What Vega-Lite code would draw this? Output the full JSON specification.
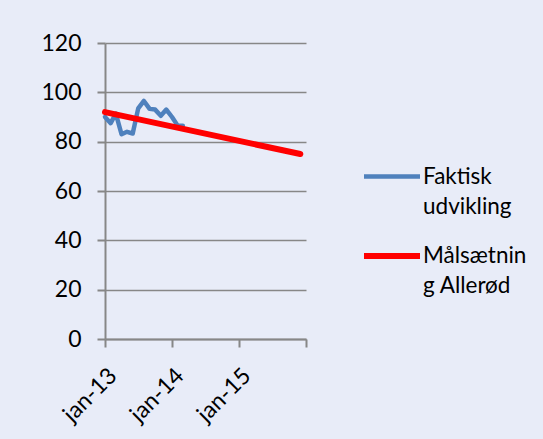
{
  "$schema": "https://vega.github.io/schema/vega-lite/v6.json",
  "autosize": "none",
  "width": 201,
  "height": 296,
  "padding": {"left": 105, "top": 43, "right": 237, "bottom": 100},
  "background": "#E8ECF8",
  "data": {
    "values": [
      {"series": "Faktisk udvikling", "date": "2013-01-01", "value": 90},
      {"series": "Faktisk udvikling", "date": "2013-02-01", "value": 87.5},
      {"series": "Faktisk udvikling", "date": "2013-03-01", "value": 91.4},
      {"series": "Faktisk udvikling", "date": "2013-04-01", "value": 83},
      {"series": "Faktisk udvikling", "date": "2013-05-01", "value": 84},
      {"series": "Faktisk udvikling", "date": "2013-06-01", "value": 83.3},
      {"series": "Faktisk udvikling", "date": "2013-07-01", "value": 93.5},
      {"series": "Faktisk udvikling", "date": "2013-08-01", "value": 96.5},
      {"series": "Faktisk udvikling", "date": "2013-09-01", "value": 93.3},
      {"series": "Faktisk udvikling", "date": "2013-10-01", "value": 93},
      {"series": "Faktisk udvikling", "date": "2013-11-01", "value": 90.5},
      {"series": "Faktisk udvikling", "date": "2013-12-01", "value": 93},
      {"series": "Faktisk udvikling", "date": "2014-01-01", "value": 90},
      {"series": "Faktisk udvikling", "date": "2014-02-01", "value": 86.5},
      {"series": "Faktisk udvikling", "date": "2014-03-01", "value": 86.5},
      {"series": "Målsætning Allerød", "date": "2013-01-01", "value": 92},
      {"series": "Målsætning Allerød", "date": "2015-12-01", "value": 75}
    ]
  },
  "mark": {"type": "line", "strokeCap": "round", "strokeJoin": "round"},
  "encoding": {
    "x": {
      "field": "date",
      "type": "temporal",
      "title": null,
      "scale": {
        "type": "utc",
        "domain": [
          {"year": 2013, "month": 1, "date": 1, "utc": true},
          {"year": 2016, "month": 1, "date": 1, "utc": true}
        ]
      },
      "axis": {
        "values": [
          {"year": 2013, "month": 1, "date": 1, "utc": true},
          {"year": 2014, "month": 1, "date": 1, "utc": true},
          {"year": 2015, "month": 1, "date": 1, "utc": true},
          {"year": 2016, "month": 1, "date": 1, "utc": true}
        ],
        "labelExpr": "utcyear(datum.value) == 2016 ? '' : 'jan-' + utcFormat(datum.value, '%y')",
        "labelAngle": -45,
        "labelAlign": "right",
        "labelBaseline": "top",
        "labelPadding": 17,
        "grid": false,
        "tickSize": 8,
        "labelFlush": false,
        "labelOverlap": false,
        "labelBound": false
      }
    },
    "y": {
      "field": "value",
      "type": "quantitative",
      "title": null,
      "scale": {"domain": [0, 120], "nice": false},
      "axis": {
        "values": [0, 20, 40, 60, 80, 100, 120],
        "grid": true,
        "tickSize": 8,
        "labelPadding": 16
      }
    },
    "color": {
      "field": "series",
      "type": "nominal",
      "scale": {
        "domain": ["Faktisk udvikling", "Målsætning Allerød"],
        "range": ["#4F81BD", "#FF0000"]
      },
      "legend": {
        "title": null,
        "orient": "none",
        "legendX": 256,
        "legendY": 103,
        "symbolType": "stroke",
        "symbolSize": 3136,
        "symbolStrokeWidth": 5,
        "labelOffset": 0,
        "labelLimit": 300,
        "rowPadding": 7,
        "labelExpr": "datum.label == 'Faktisk udvikling' ? ['Faktisk', 'udvikling'] : ['Målsætnin', 'g Allerød']"
      }
    },
    "strokeWidth": {
      "field": "series",
      "type": "nominal",
      "scale": {
        "domain": ["Faktisk udvikling", "Målsætning Allerød"],
        "range": [4.5, 6]
      },
      "legend": null
    }
  },
  "config": {
    "font": "Lato",
    "view": {"stroke": null},
    "axis": {
      "labelFont": "Lato",
      "labelFontSize": 23,
      "labelColor": "#000000",
      "domainColor": "#878787",
      "domainWidth": 2,
      "tickColor": "#878787",
      "tickWidth": 2,
      "gridColor": "#878787",
      "gridWidth": 1.5
    },
    "legend": {
      "labelFont": "Lato",
      "labelFontSize": 22.5,
      "labelColor": "#000000"
    },
    "style": {
      "guide-label": {"lineHeight": 30}
    }
  }
}
